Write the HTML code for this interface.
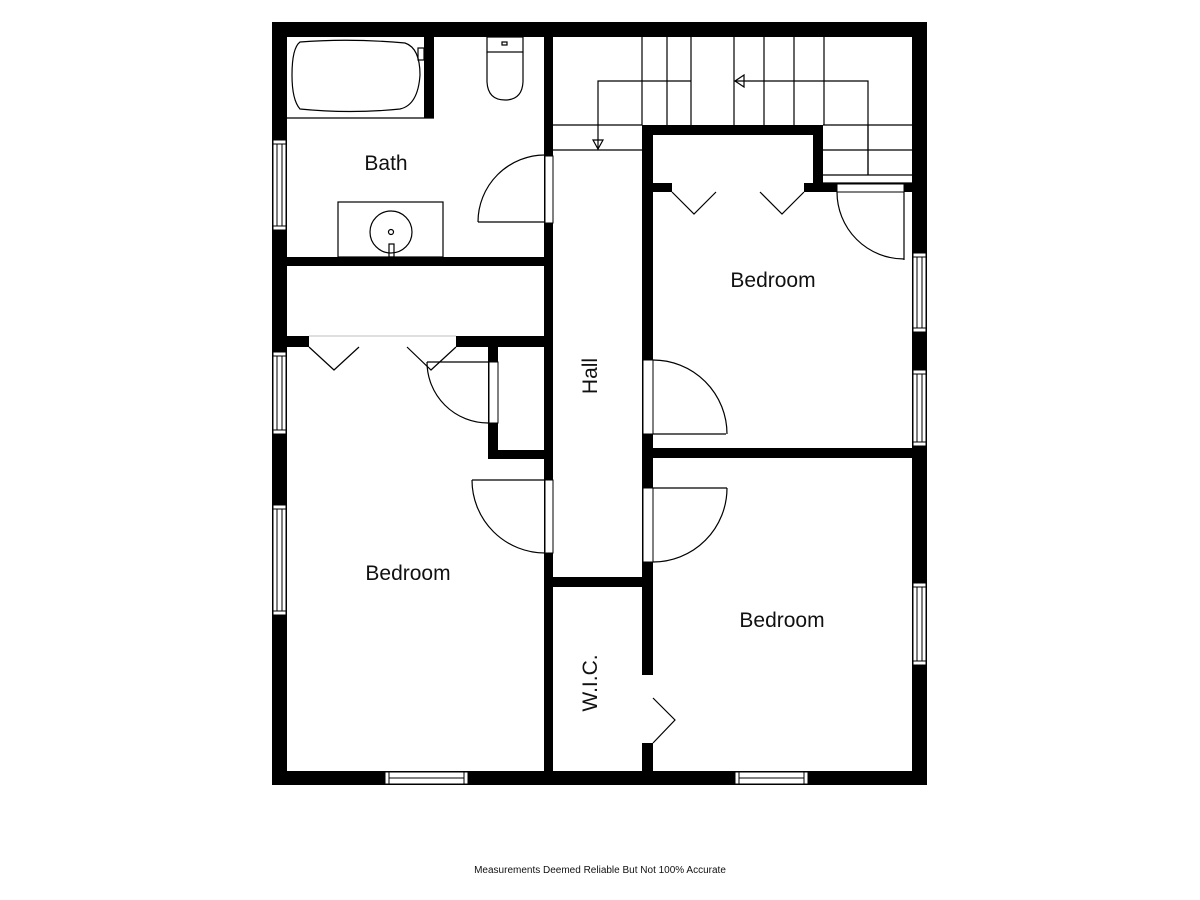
<!DOCTYPE html>
<html><head><meta charset="utf-8"><style>
html,body{margin:0;padding:0;background:#fff;}
svg{display:block;}
text{font-family:"Liberation Sans","DejaVu Sans",sans-serif;fill:#111;}
</style></head><body>
<svg width="1200" height="900" viewBox="0 0 1200 900" xmlns="http://www.w3.org/2000/svg">
<rect width="1200" height="900" fill="#fff"/>
<g fill="#000">
<rect x="272" y="22" width="655" height="15"/>
<rect x="272" y="771" width="655" height="14"/>
<rect x="272" y="22" width="15" height="763"/>
<rect x="912" y="22" width="15" height="763"/>
<rect x="544" y="37" width="9" height="734"/>
<rect x="424" y="37" width="10" height="81"/>
<rect x="287" y="257" width="266" height="9"/>
<rect x="287" y="336" width="22" height="11"/>
<rect x="456" y="336" width="97" height="11"/>
<rect x="488" y="347" width="10" height="112"/>
<rect x="488" y="450" width="65" height="9"/>
<rect x="642" y="125" width="11" height="646"/>
<rect x="642" y="125" width="181" height="10"/>
<rect x="813" y="125" width="10" height="67"/>
<rect x="653" y="183" width="19" height="9"/>
<rect x="804" y="183" width="34" height="9"/>
<rect x="904" y="183" width="8" height="9"/>
<rect x="653" y="448" width="259" height="10"/>
<rect x="553" y="577" width="89" height="10"/>
</g>
<g fill="#fff" stroke="#000" stroke-width="1">
<rect x="545" y="156" width="8" height="67"/>
<rect x="545" y="480" width="8" height="73"/>
<rect x="643" y="360" width="10" height="74"/>
<rect x="643" y="488" width="10" height="74"/>
<rect x="489" y="362" width="9" height="61"/>
<rect x="837" y="184" width="67" height="8"/>
</g>
<g fill="#fff">
<rect x="309" y="336" width="147" height="11"/>
<rect x="672" y="183" width="132" height="9"/>
<rect x="642" y="675" width="11" height="68"/>
</g>
<g fill="#fff" stroke="#000" stroke-width="1">
<rect x="273" y="140" width="13" height="90"/><line x1="277" y1="144" x2="277" y2="226"/><line x1="282" y1="144" x2="282" y2="226"/><line x1="273" y1="144" x2="286" y2="144"/><line x1="273" y1="226" x2="286" y2="226"/>
<rect x="273" y="352" width="13" height="82"/><line x1="277" y1="356" x2="277" y2="430"/><line x1="282" y1="356" x2="282" y2="430"/><line x1="273" y1="356" x2="286" y2="356"/><line x1="273" y1="430" x2="286" y2="430"/>
<rect x="273" y="505" width="13" height="110"/><line x1="277" y1="509" x2="277" y2="611"/><line x1="282" y1="509" x2="282" y2="611"/><line x1="273" y1="509" x2="286" y2="509"/><line x1="273" y1="611" x2="286" y2="611"/>
<rect x="913" y="253" width="13" height="79"/><line x1="917" y1="257" x2="917" y2="328"/><line x1="922" y1="257" x2="922" y2="328"/><line x1="913" y1="257" x2="926" y2="257"/><line x1="913" y1="328" x2="926" y2="328"/>
<rect x="913" y="370" width="13" height="76"/><line x1="917" y1="374" x2="917" y2="442"/><line x1="922" y1="374" x2="922" y2="442"/><line x1="913" y1="374" x2="926" y2="374"/><line x1="913" y1="442" x2="926" y2="442"/>
<rect x="913" y="583" width="13" height="82"/><line x1="917" y1="587" x2="917" y2="661"/><line x1="922" y1="587" x2="922" y2="661"/><line x1="913" y1="587" x2="926" y2="587"/><line x1="913" y1="661" x2="926" y2="661"/>
<rect x="385" y="772" width="83" height="12"/><line x1="389" y1="772" x2="389" y2="784"/><line x1="464" y1="772" x2="464" y2="784"/><line x1="389" y1="778" x2="464" y2="778"/>
<rect x="735" y="772" width="73" height="12"/><line x1="739" y1="772" x2="739" y2="784"/><line x1="804" y1="772" x2="804" y2="784"/><line x1="739" y1="778" x2="804" y2="778"/>
</g>
<g fill="none" stroke="#000" stroke-width="1.2">
<line x1="287" y1="118" x2="434" y2="118"/>
<path d="M300 42 Q350 38 405 43 Q420 48 420 75 Q418 105 400 109 Q350 114 300 109 Q292 100 292 75 Q292 48 300 42 Z"/>
<rect x="418" y="48" width="6" height="12"/>
<rect x="487" y="37" width="36" height="15"/>
<path d="M487 52 L487 82 Q488 100 505 100 Q522 100 523 82 L523 52"/>
<rect x="502" y="42" width="5" height="3"/>
<rect x="338" y="202" width="105" height="55"/>
<circle cx="391" cy="232" r="21"/>
<circle cx="391" cy="232" r="2.5"/>
<rect x="389" y="244" width="5" height="13"/>
<line x1="478" y1="222" x2="545" y2="222"/>
<path d="M478 222 A67 67 0 0 1 545 155"/>
<line x1="472" y1="480" x2="545" y2="480"/>
<path d="M472 480 A73 73 0 0 0 545 553"/>
<line x1="653" y1="434" x2="726" y2="434"/>
<path d="M653 360 A74 74 0 0 1 727 434"/>
<line x1="653" y1="488" x2="727" y2="488"/>
<path d="M727 488 A74 74 0 0 1 653 562"/>
<line x1="904" y1="192" x2="904" y2="260"/>
<path d="M837 192 A67 67 0 0 0 904 259"/>
<line x1="427" y1="362" x2="488" y2="362"/>
<path d="M427 362 A61 61 0 0 0 488 423"/>
<polyline points="309,347 334,370 359,347"/>
<polyline points="407,347 431,370 456,347"/>
<line x1="309" y1="336" x2="456" y2="336" stroke="#ccc"/>
<polyline points="672,192 694,214 716,192"/>
<polyline points="760,192 782,214 804,192"/>
<polyline points="653,698 675,720 653,743"/>
<line x1="553" y1="125" x2="642" y2="125"/>
<line x1="553" y1="150" x2="642" y2="150"/>
<line x1="823" y1="125" x2="912" y2="125"/>
<line x1="823" y1="150" x2="912" y2="150"/>
<line x1="823" y1="175" x2="912" y2="175"/>
<line x1="823" y1="183" x2="912" y2="183"/>
<line x1="642" y1="37" x2="642" y2="125"/>
<line x1="667" y1="37" x2="667" y2="125"/>
<line x1="691" y1="37" x2="691" y2="125"/>
<line x1="734" y1="37" x2="734" y2="125"/>
<line x1="764" y1="37" x2="764" y2="125"/>
<line x1="794" y1="37" x2="794" y2="125"/>
<line x1="824" y1="37" x2="824" y2="125"/>
<line x1="868" y1="125" x2="868" y2="175"/>
<polyline points="868,175 868,81 734,81"/>
<polyline points="691,81 598,81 598,150"/>
<polygon points="744,75 735,81 744,87"/>
<polygon points="593,140 598,149 603,140"/>
</g>
<text x="386" y="170" font-size="21" text-anchor="middle">Bath</text>
<text x="773" y="287" font-size="21" text-anchor="middle">Bedroom</text>
<text x="408" y="580" font-size="21" text-anchor="middle">Bedroom</text>
<text x="782" y="627" font-size="21" text-anchor="middle">Bedroom</text>
<text transform="translate(597,376) rotate(-90)" font-size="21" text-anchor="middle">Hall</text>
<text transform="translate(597,683) rotate(-90)" font-size="21" text-anchor="middle">W.I.C.</text>
<text x="600" y="873" font-size="10" text-anchor="middle">Measurements Deemed Reliable But Not 100% Accurate</text>
</svg>
</body></html>
